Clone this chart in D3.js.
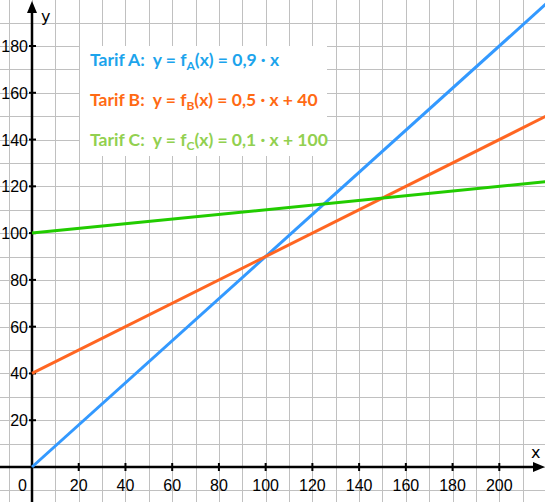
<!DOCTYPE html>
<html>
<head>
<meta charset="utf-8">
<script src="https://cdn.jsdelivr.net/npm/d3@7"></script>
<style>
  html, body { margin: 0; padding: 0; background: #fff; }
  svg { display: block; }
</style>
</head>
<body>
<div id="chart"></div>
<script>
// Daten
var xTicks = [20, 40, 60, 80, 100, 120, 140, 160, 180, 200];
var yTicks = [20, 40, 60, 80, 100, 120, 140, 160, 180];
var lineX = [0, 222];
var tarifA = [0, 199.8];
var tarifB = [40, 151];
var tarifC = [100, 122.2];
var legendLabels = ["Tarif A:", "Tarif B:", "Tarif C:"];
var legendFormulas = [
  {sub: "A", rest: "(x) = 0,9 · x"},
  {sub: "B", rest: "(x) = 0,5 · x + 40"},
  {sub: "C", rest: "(x) = 0,1 · x + 100"}
];

var W = 545, H = 502;

var svg = d3.select("#chart").append("svg")
  .attr("width", W).attr("height", H);

var x = d3.scaleLinear().domain([0, 200]).range([32, 499.3]);
var y = d3.scaleLinear().domain([0, 180]).range([467, 46]);

// Gitter (alle 10 Einheiten)
var gx = d3.range(-10, 230, 10);
var gy = d3.range(-10, 210, 10);
svg.append("g").selectAll("line").data(gx).enter().append("line")
  .attr("x1", function(d){ return Math.round(x(d)) + 0.5; })
  .attr("x2", function(d){ return Math.round(x(d)) + 0.5; })
  .attr("y1", 0).attr("y2", H)
  .attr("stroke", "#c0c0c0").attr("stroke-width", 1);
svg.append("g").selectAll("line").data(gy).enter().append("line")
  .attr("y1", function(d){ return Math.round(y(d)) + 0.5; })
  .attr("y2", function(d){ return Math.round(y(d)) + 0.5; })
  .attr("x1", 0).attr("x2", W)
  .attr("stroke", "#c0c0c0").attr("stroke-width", 1);

// Legenden-Hintergrund
svg.append("rect")
  .attr("x", 80).attr("y", 46).attr("width", 247).attr("height", 110)
  .attr("fill", "#fff");

// Achsen
var x0 = x(0), y0 = y(0);
svg.append("line").attr("x1", 0).attr("x2", W - 8).attr("y1", y0).attr("y2", y0)
  .attr("stroke", "#000").attr("stroke-width", 2.5);
svg.append("line").attr("x1", x0).attr("x2", x0).attr("y1", H).attr("y2", 10)
  .attr("stroke", "#000").attr("stroke-width", 2.5);
svg.append("path")
  .attr("d", "M" + W + "," + y0 + "L" + (W - 12) + "," + (y0 - 5) + "L" + (W - 12) + "," + (y0 + 5) + "Z")
  .attr("fill", "#000");
svg.append("path")
  .attr("d", "M" + x0 + ",1L" + (x0 - 5) + ",13L" + (x0 + 5) + ",13Z")
  .attr("fill", "#000");

// Striche
svg.append("g").selectAll("line").data(xTicks).enter().append("line")
  .attr("x1", function(d){ return x(d); }).attr("x2", function(d){ return x(d); })
  .attr("y1", y0 - 4).attr("y2", y0 + 4)
  .attr("stroke", "#000").attr("stroke-width", 2);
svg.append("g").selectAll("line").data(yTicks).enter().append("line")
  .attr("y1", function(d){ return y(d); }).attr("y2", function(d){ return y(d); })
  .attr("x1", x0 - 3).attr("x2", x0 + 4)
  .attr("stroke", "#000").attr("stroke-width", 2);

// Beschriftungen
var tickFont = "'Liberation Sans', Arial, sans-serif";
svg.append("g").selectAll("text").data(xTicks).enter().append("text")
  .attr("x", function(d){ return x(d); }).attr("y", y0 + 24)
  .attr("text-anchor", "middle")
  .style("font-family", tickFont).style("font-size", "16px")
  .text(function(d){ return d; });
svg.append("g").selectAll("text").data(yTicks).enter().append("text")
  .attr("x", x0 - 4).attr("y", function(d){ return y(d) + 6; })
  .attr("text-anchor", "end")
  .style("font-family", tickFont).style("font-size", "16px")
  .text(function(d){ return d; });
svg.append("text").attr("x", x0 - 5).attr("y", y0 + 24)
  .attr("text-anchor", "end")
  .style("font-family", tickFont).style("font-size", "16px").text("0");
svg.append("text").attr("x", x0 + 9).attr("y", 22)
  .style("font-family", "'DejaVu Sans', sans-serif").style("font-size", "16px").text("y");
svg.append("text").attr("x", 531).attr("y", 458)
  .style("font-family", "'DejaVu Sans', sans-serif").style("font-size", "16px").text("x");

// Geraden
var series = [
  {vals: tarifA, color: "#3399ff"},
  {vals: tarifB, color: "#ff6622"},
  {vals: tarifC, color: "#22cc00"}
];
var line = d3.line()
  .x(function(d){ return x(d[0]); })
  .y(function(d){ return y(d[1]); });
svg.append("g").selectAll("path").data(series).enter().append("path")
  .attr("d", function(s){ return line(lineX.map(function(v, i){ return [v, s.vals[i]]; })); })
  .attr("fill", "none")
  .attr("stroke", function(s){ return s.color; })
  .attr("stroke-width", 3);

// Legende
var legendColors = ["#1ca4ec", "#ff6a14", "#92d050"];
var legendY = [66, 106, 146];
var lg = svg.append("g")
  .style("font-family", "Lato, 'Open Sans', sans-serif")
  .style("font-weight", "bold").style("font-size", "17.5px");
legendLabels.forEach(function(lbl, i){
  var t = lg.append("text").attr("x", 90).attr("y", legendY[i])
    .attr("fill", legendColors[i]).attr("xml:space", "preserve");
  t.append("tspan").text(lbl + "  y = f");
  t.append("tspan").attr("dy", 4).style("font-size", "12px").text(legendFormulas[i].sub);
  t.append("tspan").attr("dy", -4).text(legendFormulas[i].rest);
});
</script>
</body>
</html>
